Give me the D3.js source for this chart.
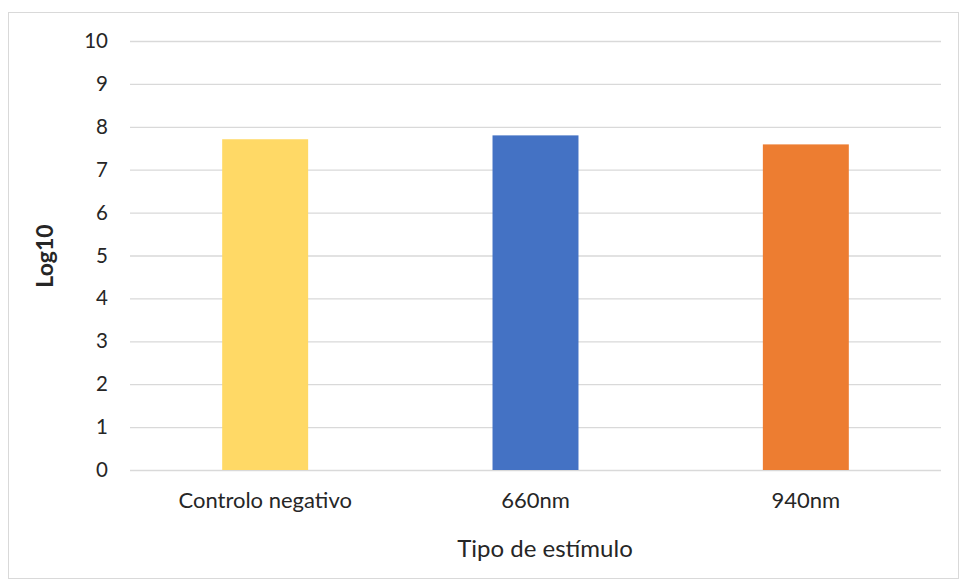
<!DOCTYPE html>
<html>
<head>
<meta charset="utf-8">
<script src="https://cdn.jsdelivr.net/npm/d3@7"></script>
<style>
  html, body { margin: 0; padding: 0; background: #fff; }
  svg text { font-family: Lato, "Open Sans", sans-serif; fill: #262626; }
</style>
</head>
<body>
<svg id="chart" width="960" height="580"></svg>
<script>
// Mean log10 counts per stimulus type
const categories = ["Controlo negativo", "660nm", "940nm"];
const values = [7.71, 7.80, 7.59];
const colors = ["#FFD966", "#4472C4", "#ED7D31"];
const yTicks = [0, 1, 2, 3, 4, 5, 6, 7, 8, 9, 10];

const svg = d3.select("#chart");
const fontFamily = "Lato, 'Open Sans', sans-serif";

// outer chart frame
svg.append("rect")
  .attr("x", 8.5).attr("y", 12.5)
  .attr("width", 950).attr("height", 566)
  .attr("fill", "#fff").attr("stroke", "#d9d9d9").attr("stroke-width", 1);

const plot = { left: 130, right: 941, top: 41, bottom: 470 };

const x = d3.scaleBand()
  .domain(categories)
  .range([plot.left, plot.right])
  .paddingInner(0.682)
  .paddingOuter(0.341);

const y = d3.scaleLinear()
  .domain([0, 10])
  .range([plot.bottom, plot.top]);

// horizontal gridlines with tick labels
const yAxis = d3.axisLeft(y)
  .tickValues(yTicks)
  .tickSize(-(plot.right - plot.left))
  .tickPadding(22)
  .tickFormat(d3.format("d"));

const gy = svg.append("g")
  .attr("transform", `translate(${plot.left},0)`)
  .call(yAxis);
gy.select(".domain").remove();
gy.selectAll(".tick line").attr("stroke", "#d9d9d9").attr("stroke-width", 1.3);
gy.selectAll(".tick text")
  .attr("font-size", 20.5)
  .attr("fill", "#262626")
  .style("font-family", fontFamily);

// bars
svg.append("g").selectAll("rect")
  .data(categories)
  .join("rect")
  .attr("x", d => x(d))
  .attr("width", x.bandwidth())
  .attr("y", (d, i) => y(values[i]))
  .attr("height", (d, i) => y(0) - y(values[i]))
  .attr("fill", (d, i) => colors[i]);

// category labels
const xAxis = d3.axisBottom(x).tickSize(0).tickPadding(0);
const gx = svg.append("g")
  .attr("transform", `translate(0,${plot.bottom})`)
  .call(xAxis);
gx.select(".domain").remove();
gx.selectAll(".tick text")
  .attr("dy", null)
  .attr("y", 38)
  .attr("font-size", 22)
  .attr("fill", "#262626")
  .style("font-family", fontFamily);

// axis titles
svg.append("text")
  .attr("x", 545)
  .attr("y", 557)
  .attr("text-anchor", "middle")
  .attr("font-size", 24)
  .text("Tipo de estímulo");

svg.append("text")
  .attr("transform", `translate(53,256) rotate(-90)`)
  .attr("text-anchor", "middle")
  .attr("font-size", 23)
  .attr("font-weight", "bold")
  .text("Log10");
</script>
</body>
</html>
